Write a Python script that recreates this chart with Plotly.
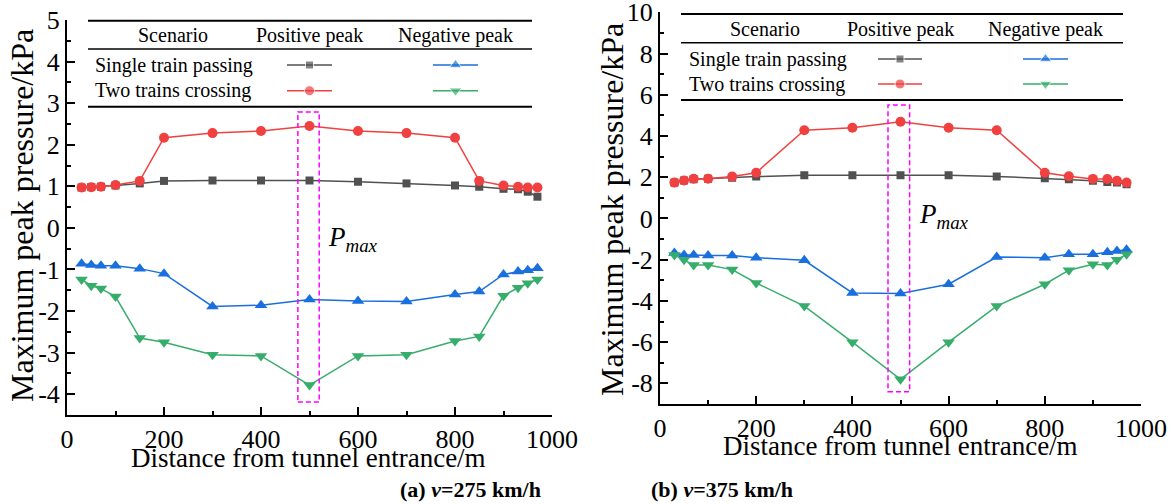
import plotly.graph_objects as go

# ---------------- data ----------------
distance = [30, 50, 70, 100, 150, 200, 300, 400, 500, 600, 700, 800, 850, 900, 930, 950, 970]

# (a) v = 275 km/h
single_pos_a = [0.97, 0.98, 0.99, 1.02, 1.07, 1.13, 1.14, 1.14, 1.14, 1.11, 1.07, 1.02, 0.99, 0.94, 0.93, 0.87, 0.75]
two_pos_a = [0.97, 0.98, 0.99, 1.03, 1.13, 2.17, 2.28, 2.33, 2.45, 2.33, 2.28, 2.17, 1.13, 1.02, 0.99, 0.97, 0.97]
single_neg_a = [-0.86, -0.89, -0.91, -0.91, -0.98, -1.10, -1.89, -1.86, -1.72, -1.76, -1.77, -1.60, -1.53, -1.12, -1.05, -1.02, -0.97]
two_neg_a = [-1.24, -1.39, -1.46, -1.65, -2.65, -2.75, -3.05, -3.08, -3.78, -3.08, -3.05, -2.72, -2.61, -1.63, -1.44, -1.33, -1.24]

# (b) v = 375 km/h
single_pos_b = [1.74, 1.84, 1.90, 1.93, 1.98, 2.03, 2.09, 2.09, 2.09, 2.09, 2.04, 1.95, 1.90, 1.83, 1.77, 1.74, 1.66]
two_pos_b = [1.74, 1.84, 1.93, 1.93, 2.03, 2.22, 4.28, 4.40, 4.69, 4.40, 4.28, 2.22, 2.05, 1.92, 1.91, 1.83, 1.74]
single_neg_b = [-1.68, -1.77, -1.77, -1.80, -1.80, -1.90, -2.03, -3.61, -3.64, -3.19, -1.87, -1.90, -1.74, -1.74, -1.64, -1.58, -1.52]
two_neg_b = [-1.77, -2.00, -2.26, -2.26, -2.48, -3.13, -4.25, -6.00, -7.80, -6.00, -4.25, -3.19, -2.51, -2.22, -2.26, -2.00, -1.74]

# tick values / labels
x_ticks = [0, 200, 400, 600, 800, 1000]
y_ticks_a = [5, 4, 3, 2, 1, 0, -1, -2, -3, -4]
y_ticks_b = [10, 8, 6, 4, 2, 0, -2, -4, -6, -8]
y_labels_a = [str(v) for v in y_ticks_a]
y_labels_b = [str(v) for v in y_ticks_b]

series_names = ["Single train passing (positive)", "Two trains crossing (positive)",
                "Single train passing (negative)", "Two trains crossing (negative)"]
colors = ["#515151", "#F14040", "#1A6FDF", "#37AD6B"]
symbols = ["square", "circle", "triangle-up", "triangle-down"]
msizes = [8, 10, 11, 11]

x_title = "Distance from tunnel entrance/m"
y_title = "Maximum peak pressure/kPa"
captions = ["<b>(a) <i>v</i>=275 km/h</b>", "<b>(b) <i>v</i>=375 km/h</b>"]
header = ["Scenario", "Positive peak", "Negative peak"]
rows = ["Single train passing", "Two trains crossing"]

FONT = "Liberation Serif"
W, H = 1172, 504

fig = go.Figure()

panels = [
    ("x", "y", [single_pos_a, two_pos_a, single_neg_a, two_neg_a]),
    ("x2", "y2", [single_pos_b, two_pos_b, single_neg_b, two_neg_b]),
]
for xa, ya, vals in panels:
    for i, v in enumerate(vals):
        fig.add_trace(go.Scatter(
            x=distance, y=v, xaxis=xa, yaxis=ya, mode="lines+markers",
            name=series_names[i], showlegend=False,
            line=dict(color=colors[i], width=1.5),
            marker=dict(symbol=symbols[i], size=msizes[i], color=colors[i]),
        ))

def px_x(p):
    return p / W

def px_y(p):
    return 1 - p / H

axis_common = dict(
    showline=True, linewidth=2, linecolor="black", mirror=False, automargin=False,
    showgrid=False, zeroline=False, ticks="inside", ticklen=8, tickwidth=2,
    tickcolor="black", tickfont=dict(family=FONT, size=26, color="black"),
    ticklabeloverflow="allow",
)

fig.update_layout(
    template="none",
    width=W, height=H, autosize=False,
    margin=dict(l=0, r=0, t=0, b=0, pad=0, autoexpand=False),
    showlegend=False,
    paper_bgcolor="white", plot_bgcolor="rgba(0,0,0,0)",
    xaxis=dict(domain=[px_x(67), px_x(552)], range=[0, 1000], tickmode="array", tickvals=x_ticks,
               anchor="y",
               minor=dict(dtick=100, ticks="inside", ticklen=4, tickwidth=1.5, tickcolor="black"),
               **axis_common),
    yaxis=dict(domain=[px_y(415), px_y(20)], range=[-4.5, 5], tickmode="array",
               tickvals=y_ticks_a, ticktext=y_labels_a, anchor="x",
               minor=dict(tickmode="linear", tick0=0, dtick=0.5, ticks="inside", ticklen=4, tickwidth=1.5, tickcolor="black"),
               **axis_common),
    xaxis2=dict(domain=[px_x(660), px_x(1141)], range=[0, 1000], tickmode="array", tickvals=x_ticks,
                anchor="y2",
                minor=dict(dtick=100, ticks="inside", ticklen=4, tickwidth=1.5, tickcolor="black"),
                **axis_common),
    yaxis2=dict(domain=[px_y(404), px_y(12.3)], range=[-9, 10], tickmode="array",
                tickvals=y_ticks_b, ticktext=y_labels_b, anchor="x2",
                minor=dict(tickmode="linear", tick0=0, dtick=1, ticks="inside", ticklen=4, tickwidth=1.5, tickcolor="black"),
                **axis_common),
    # overlay in pixel coordinates for legend tables and text
    xaxis3=dict(domain=[0, 1], range=[0, W], visible=False, anchor="y3", fixedrange=True, automargin=False),
    yaxis3=dict(domain=[0, 1], range=[H, 0], visible=False, anchor="x3", fixedrange=True, automargin=False),
)

shapes = []
annotations = []

# P_max dashed boxes (data coordinates)
shapes.append(dict(type="rect", xref="x", yref="y", x0=476, x1=520, y0=-4.19, y1=2.79,
                   line=dict(color="#FF00FF", width=1.5, dash="5px,3px")))
shapes.append(dict(type="rect", xref="x2", yref="y2", x0=474, x1=519, y0=-8.4, y1=5.5,
                   line=dict(color="#FF00FF", width=1.5, dash="5px,3px")))
annotations.append(dict(xref="x", yref="y", x=534, y=0.2, xanchor="left", yanchor="top",
                        text="<i>P<sub>max</sub></i>", showarrow=False,
                        font=dict(family=FONT, size=27, color="black")))
annotations.append(dict(xref="x2", yref="y2", x=535, y=1.05, xanchor="left", yanchor="top",
                        text="<i>P<sub>max</sub></i>", showarrow=False,
                        font=dict(family=FONT, size=27, color="black")))

# legend tables (pixel coordinates on overlay axes)
tables = [
    dict(x0=88, x1=532, top=20.7, mid=49, bot=106.7, hy=35, r1=65, r2=90.7,
         scen=173, pos=(287, 332), neg=(433, 478), label_x=93),
    dict(x0=681, x1=1123, top=14, mid=42.7, bot=100, hy=29, r1=59, r2=84,
         scen=765, pos=(878, 922), neg=(1023, 1068), label_x=687),
]
for t in tables:
    for yy, lw in [(t["top"], 2), (t["mid"], 1.5), (t["bot"], 2)]:
        shapes.append(dict(type="line", xref="x3", yref="y3", x0=t["x0"], x1=t["x1"],
                           y0=yy, y1=yy, line=dict(color="black", width=lw)))
    centers = [t["scen"], (t["pos"][0] + t["pos"][1]) / 2, (t["neg"][0] + t["neg"][1]) / 2]
    for c, h in zip(centers, header):
        annotations.append(dict(xref="x3", yref="y3", x=c, y=t["hy"], text=h, showarrow=False,
                                xanchor="center", yanchor="middle",
                                font=dict(family=FONT, size=20, color="black")))
    for ry, r in zip([t["r1"], t["r2"]], rows):
        annotations.append(dict(xref="x3", yref="y3", x=t["label_x"], y=ry, text=r, showarrow=False,
                                xanchor="left", yanchor="middle",
                                font=dict(family=FONT, size=20, color="black")))
    samples = [(t["pos"], t["r1"], 0), (t["pos"], t["r2"], 1), (t["neg"], t["r1"], 2), (t["neg"], t["r2"], 3)]
    for (xa0, xa1), ry, i in samples:
        fig.add_trace(go.Scatter(
            x=[xa0, (xa0 + xa1) / 2, xa1], y=[ry, ry, ry], xaxis="x3", yaxis="y3",
            mode="lines+markers", showlegend=False, hoverinfo="skip",
            line=dict(color=colors[i], width=1.5),
            marker=dict(symbol=symbols[i], size=[0, msizes[i], 0], color=colors[i]),
        ))

# axis titles
annotations += [
    dict(xref="x3", yref="y3", x=22, y=216, text=y_title, textangle=-90, showarrow=False,
         xanchor="center", yanchor="middle", font=dict(family=FONT, size=32, color="black")),
    dict(xref="x3", yref="y3", x=612, y=210, text=y_title, textangle=-90, showarrow=False,
         xanchor="center", yanchor="middle", font=dict(family=FONT, size=32, color="black")),
    dict(xref="x3", yref="y3", x=308, y=458, text=x_title, showarrow=False,
         xanchor="center", yanchor="middle", font=dict(family=FONT, size=27, color="black")),
    dict(xref="x3", yref="y3", x=900, y=446, text=x_title, showarrow=False,
         xanchor="center", yanchor="middle", font=dict(family=FONT, size=27, color="black")),
    dict(xref="x3", yref="y3", x=470, y=489, text=captions[0], showarrow=False,
         xanchor="center", yanchor="middle", font=dict(family=FONT, size=22, color="black")),
    dict(xref="x3", yref="y3", x=722, y=489, text=captions[1], showarrow=False,
         xanchor="center", yanchor="middle", font=dict(family=FONT, size=22, color="black")),
]

fig.update_layout(shapes=shapes, annotations=annotations)
fig.write_html("out.html")
